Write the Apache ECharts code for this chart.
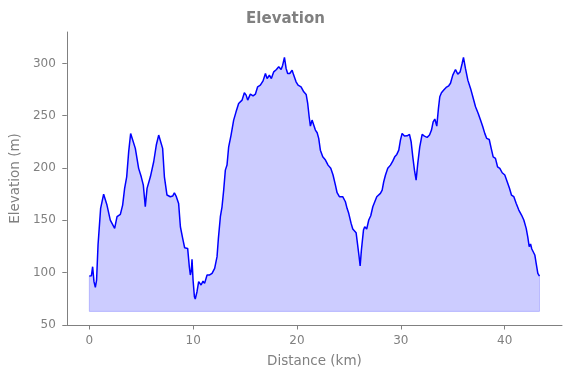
<!DOCTYPE html>
<html>
<head>
<meta charset="utf-8">
<script src="https://cdn.jsdelivr.net/npm/echarts@6/dist/echarts.min.js"></script>
<style>
  html, body { margin: 0; padding: 0; background: #fff; }
  #chart { width: 571px; height: 378px; }
</style>
</head>
<body>
<div id="chart"></div>
<script>
var distanceKm = [
  0, 0.2, 0.32, 0.45, 0.58, 0.7, 0.84, 1.09, 1.38, 1.7, 2.02, 2.44, 2.67, 2.99, 3.21, 3.4, 3.6, 3.79, 3.98, 4.17,
  4.43, 4.75, 5.0, 5.2, 5.39, 5.56, 5.88, 6.2, 6.45, 6.68, 6.87, 7.06, 7.23, 7.48, 7.8, 8.03, 8.19, 8.38, 8.6, 8.77,
  8.99, 9.18, 9.47, 9.63, 9.73, 9.83, 9.89, 9.99, 10.12, 10.2, 10.37, 10.53, 10.76, 10.95, 11.1, 11.34, 11.59, 11.82, 12.07, 12.3,
  12.43, 12.62, 12.78, 12.94, 13.1, 13.26, 13.42, 13.65, 13.9, 14.13, 14.38, 14.71, 14.93, 15.1, 15.25, 15.51, 15.77, 15.99, 16.21, 16.47,
  16.73, 16.96, 17.12, 17.34, 17.53, 17.76, 18.02, 18.24, 18.47, 18.62, 18.79, 18.95, 19.1, 19.3, 19.53, 19.68, 19.91, 20.1, 20.39, 20.65,
  20.88, 21.03, 21.17, 21.29, 21.45, 21.61, 21.77, 21.94, 22.09, 22.25, 22.48, 22.74, 22.99, 23.25, 23.47, 23.7, 23.86, 24.08, 24.4, 24.66,
  24.82, 24.98, 25.21, 25.37, 25.53, 25.69, 25.82, 25.98, 26.08, 26.2, 26.4, 26.52, 26.71, 26.91, 27.1, 27.3, 27.49, 27.68, 27.87, 28.03,
  28.2, 28.35, 28.52, 28.74, 29.0, 29.22, 29.41, 29.61, 29.8, 29.96, 30.12, 30.35, 30.61, 30.83, 30.99, 31.15, 31.31, 31.47, 31.63, 31.82,
  32.05, 32.27, 32.53, 32.76, 32.95, 33.11, 33.27, 33.46, 33.62, 33.75, 33.91, 34.13, 34.36, 34.61, 34.78, 35.0, 35.26, 35.48, 35.71, 35.9,
  36.03, 36.22, 36.45, 36.71, 36.93, 37.19, 37.45, 37.67, 37.89, 38.08, 38.27, 38.51, 38.7, 38.89, 39.11, 39.31, 39.53, 39.76, 40.01, 40.24,
  40.46, 40.65, 40.88, 41.11, 41.36, 41.62, 41.84, 42.07, 42.22, 42.36, 42.49, 42.61, 42.77, 42.9, 43.03, 43.19, 43.35
];

var elevationM = [
  96.8, 97, 105.7, 91.4, 86, 93, 126.4, 161.5, 175, 164.6, 150.3, 142.3, 153.5, 155.7, 164.6, 180.5, 191.6, 215.5, 233, 232,
  218.8, 199.7, 191.6, 183.7, 163, 180.6, 191.6, 206, 222, 231.5, 232, 218.8, 191.6, 174.2, 172.6, 173.2, 176.4, 172.6, 166.2, 143.9,
  132.8, 123.8, 123.2, 105.7, 97.8, 102.5, 112.7, 93, 77, 74.8, 81.8, 91.4, 88.2, 92, 89.8, 97.8, 97.8, 99.4, 104.2, 115.3,
  132.8, 153.5, 163, 178.9, 198, 202.8, 220.3, 231.5, 245.8, 253.7, 261.7, 264.9, 271.9, 269.7, 264.9, 270.6, 269, 270.6, 277.6, 279.2,
  283.3, 290.3, 285.5, 288.7, 285.5, 291.9, 294.2, 296.7, 294.2, 298.3, 305.7, 295.2, 290.4, 290.4, 293.5, 288.8, 282.4, 279.2, 277.6, 272.8,
  270.3, 261.7, 249, 240.1, 245.8, 245.8, 236.3, 233.7, 228.3, 217.1, 210.7, 207.6, 202.8, 199.7, 193.3, 183.7, 176.4, 172.6, 172.6, 167.8,
  161.5, 156.7, 147.1, 141.7, 143.3, 138.2, 128, 115.2, 106.4, 121.6, 140.7, 143.9, 141.7, 150.3, 154.4, 163, 167.8, 172.6, 171.6, 175.8,
  178.9, 186.9, 193.3, 199.7, 202.8, 206.6, 210.7, 213, 217.1, 226.7, 233.1, 230.5, 230.8, 232.1, 225.1, 210.7, 198, 188.5, 204.4, 220.3,
  232.1, 230.5, 229.3, 231.5, 236.3, 244.2, 246.8, 240.1, 257, 268.1, 271.9, 274.5, 277, 278.6, 281, 288.8, 294.2, 289.7, 291.9, 299.9,
  305.7, 295.2, 284, 276.1, 268.1, 258.5, 252.2, 245.8, 239.4, 233.1, 228.3, 227.3, 218.8, 210.7, 209.2, 201.2, 199.7, 195.5, 193.3, 186.9,
  180.6, 174.2, 172.6, 166.2, 159.8, 155.1, 150.3, 142.3, 134.3, 124.8, 127.4, 122.6, 121.6, 116.9, 108.9, 99.4, 96.8
];

var fillBase = 63;
var xTicks = [0, 10, 20, 30, 40];
var yTicks = [50, 100, 150, 200, 250, 300];

var gray = '#808080';
var font = 'DejaVu Sans';

var chart = echarts.init(document.getElementById('chart'));

var profile = distanceKm.map(function (d, i) { return [d, elevationM[i]]; });
var last = distanceKm.length - 1;
var fillEdge = [
  [distanceKm[0], elevationM[0]],
  [distanceKm[0], fillBase],
  [distanceKm[last], fillBase],
  [distanceKm[last], elevationM[last]]
];

var span = distanceKm[last] - distanceKm[0];

var option = {
  animation: false,
  title: {
    text: 'Elevation',
    left: 'center',
    top: 7,
    textStyle: { fontFamily: font, fontSize: 15, fontWeight: 'bold', color: gray }
  },
  grid: { left: 66, right: 9, top: 32, bottom: 53 },
  xAxis: {
    type: 'value',
    min: distanceKm[0] - span * 0.05,
    max: distanceKm[last] + span * 0.05,
    name: 'Distance (km)',
    nameLocation: 'middle',
    nameGap: 29,
    nameTextStyle: { fontFamily: font, fontSize: 13.5, color: gray },
    axisLine: { onZero: false, lineStyle: { color: gray, width: 1 } },
    axisTick: { length: 4.5, lineStyle: { color: gray }, customValues: xTicks },
    axisLabel: { margin: 10, fontFamily: font, fontSize: 12, color: gray, customValues: xTicks },
    splitLine: { show: false }
  },
  yAxis: {
    type: 'value',
    min: 50,
    max: 330,
    name: 'Elevation (m)',
    nameLocation: 'middle',
    nameGap: 43,
    nameTextStyle: { fontFamily: font, fontSize: 13.5, color: gray },
    axisLine: { show: true, onZero: false, lineStyle: { color: gray, width: 1 } },
    axisTick: { show: true, length: 4.5, lineStyle: { color: gray }, customValues: yTicks },
    axisLabel: { margin: 11, fontFamily: font, fontSize: 12, color: gray, customValues: yTicks },
    splitLine: { show: false }
  },
  series: [
    {
      type: 'line',
      data: fillEdge,
      showSymbol: false,
      silent: true,
      lineStyle: { color: 'rgba(0,0,255,0.2)', width: 1 }
    },
    {
      type: 'line',
      data: profile,
      showSymbol: false,
      lineStyle: { color: '#0000ff', width: 1.5 },
      areaStyle: { color: 'rgba(0,0,255,0.2)', origin: fillBase, opacity: 1 }
    }
  ]
};

chart.setOption(option);
</script>
</body>
</html>
